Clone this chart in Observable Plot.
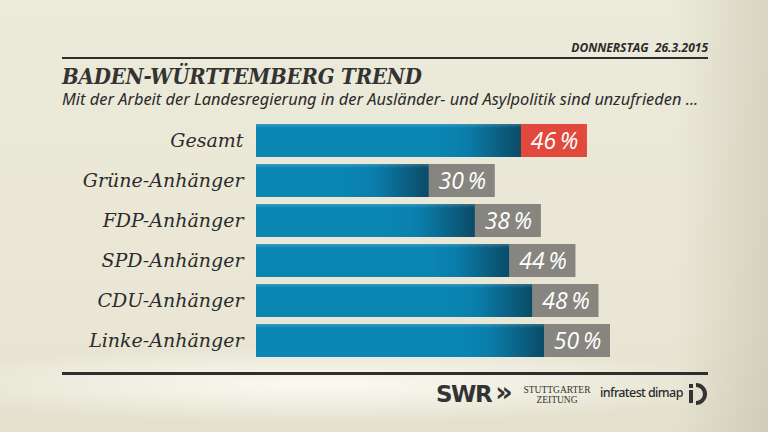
<!DOCTYPE html>
<html><head><meta charset="utf-8">
<script src="https://cdn.jsdelivr.net/npm/d3@7"></script>
<script src="https://cdn.jsdelivr.net/npm/@observablehq/plot@0.6"></script>
<style>
html,body{margin:0;padding:0;}
#wrap{position:relative;width:768px;height:432px;overflow:hidden;
 background:
  linear-gradient(to right, rgba(0,0,0,0) 88%, rgba(110,100,70,0.16) 100%),
  radial-gradient(ellipse 55% 9% at 42% 89%, rgba(255,255,248,0.85), rgba(255,255,248,0) 100%),
  linear-gradient(#eceada, #e9e6d5 75%, #e3e0cd);
 font-family:"Noto Sans",sans-serif;color:#2b2b2b;}
.abs{position:absolute;white-space:nowrap;}
#date{right:60px;top:39px;font:italic bold 12px "Open Sans",sans-serif;color:#2b2b2b;}
#rule1{left:62px;top:57px;width:646px;height:2px;background:#2e2e2e;}
#title{left:62px;top:63px;font:italic bold 22px "DejaVu Serif Condensed","DejaVu Serif",serif;color:#333;letter-spacing:-0.2px;}
#sub{left:62px;top:87px;font:italic 16.4px "Noto Sans",sans-serif;color:#2b2b2b;}
#rule2{left:62px;top:372px;width:646px;height:3px;background:#2e2e2e;}
#swr{left:436px;top:379px;font:900 23px/28px "DejaVu Sans",sans-serif;color:#333;letter-spacing:-1.5px;}
#swr span{font-size:27px;letter-spacing:0;margin-left:4px;position:relative;top:-1px;}
.stz{font:9.5px/10px "Liberation Serif",serif;color:#333;width:72px;text-align:center;left:521px;}
#inf{left:600px;top:384px;font:500 12.5px "Noto Sans",sans-serif;color:#2b2b2b;letter-spacing:-0.6px;}
#plot{position:absolute;left:0;top:0;}
</style></head>
<body><div id="wrap">
<div id="date" class="abs">DONNERSTAG&nbsp; 26.3.2015</div>
<div id="rule1" class="abs"></div>
<div id="title" class="abs">BADEN-WÜRTTEMBERG TREND</div>
<div id="sub" class="abs">Mit der Arbeit der Landesregierung in der Ausländer- und Asylpolitik sind unzufrieden ...</div>
<div id="plot"></div>
<div id="rule2" class="abs"></div>
<div id="swr" class="abs">SWR<span>»</span></div>
<div class="abs stz" style="top:385px">STUTTGARTER</div>
<div class="abs stz" style="top:395px">ZEITUNG</div>
<div id="inf" class="abs">infratest dimap</div>
<svg class="abs" style="left:688px;top:383px" width="22" height="22" viewBox="0 0 22 22">
 <rect x="1" y="1" width="4" height="4" fill="#333"/>
 <rect x="1" y="7" width="4" height="13" fill="#333"/>
 <path d="M8 2 A9 9 0 1 1 8 20" fill="none" stroke="#333" stroke-width="4"/>
</svg>
</div>
<script>
const categories = ["Gesamt","Grüne-Anhänger","FDP-Anhänger","SPD-Anhänger","CDU-Anhänger","Linke-Anhänger"];
const values = [46,30,38,44,48,50];
const highlighted = ["Gesamt"];

const data = categories.map((c,i)=>({cat:c, value:values[i]}));
const blue = "#0a86b4", grey = "#878580", red = "#e0493b";

const defs = () => {
  const d = d3.create("svg:defs");
  const g = d.append("linearGradient").attr("id","barGrad").attr("x1",0).attr("x2",1).attr("y1",0).attr("y2",0);
  g.append("stop").attr("offset","0%").attr("stop-color",blue);
  g.append("stop").attr("offset","35%").attr("stop-color","#0a7eab");
  g.append("stop").attr("offset","100%").attr("stop-color","#0b4b67");
  const h = d.append("linearGradient").attr("id","topGrad").attr("x1",0).attr("x2",0).attr("y1",0).attr("y2",1);
  h.append("stop").attr("offset","0%").attr("stop-color","#fff").attr("stop-opacity",0.18);
  h.append("stop").attr("offset","12%").attr("stop-color","#fff").attr("stop-opacity",0);
  return d.node();
};

const chart = Plot.plot({
  width: 768, height: 432,
  marginLeft: 256, marginRight: 160, marginTop: 120, marginBottom: 72,
  style: {background: "transparent", color: "#2b2b2b", overflow: "visible"},
  x: {domain: [0, 50], range: [256, 544], axis: null},
  y: {domain: categories, range: [120, 360], paddingInner: 0.175, paddingOuter: 0.0875, label: null},
  marks: [
    defs,
    Plot.axisY({tickSize: 0, tickPadding: 13, fontSize: 19, fontStyle: "italic", fontFamily: "DejaVu Serif, serif", fill: "#2b2b2b"}),
    Plot.barX(data, {x: "value", y: "cat", fill: blue}),
    Plot.barX(data, {x1: "value", x2: "value", y: "cat", insetLeft: -85, fill: "url(#barGrad)"}),
    Plot.barX(data, {x: "value", y: "cat", fill: "url(#topGrad)"}),
    Plot.barX(data, {x1: "value", x2: "value", y: "cat", insetRight: -66,
      fill: d => highlighted.includes(d.cat) ? red : grey}),
    Plot.text(data, {x: "value", y: "cat", dx: 33, dy: 1, text: d => d.value + "\u2009%",
      fill: "white", fontSize: 23, fontStyle: "italic", fontFamily: "Open Sans, sans-serif"})
  ]
});
document.getElementById("plot").appendChild(chart);
</script>
</body></html>
